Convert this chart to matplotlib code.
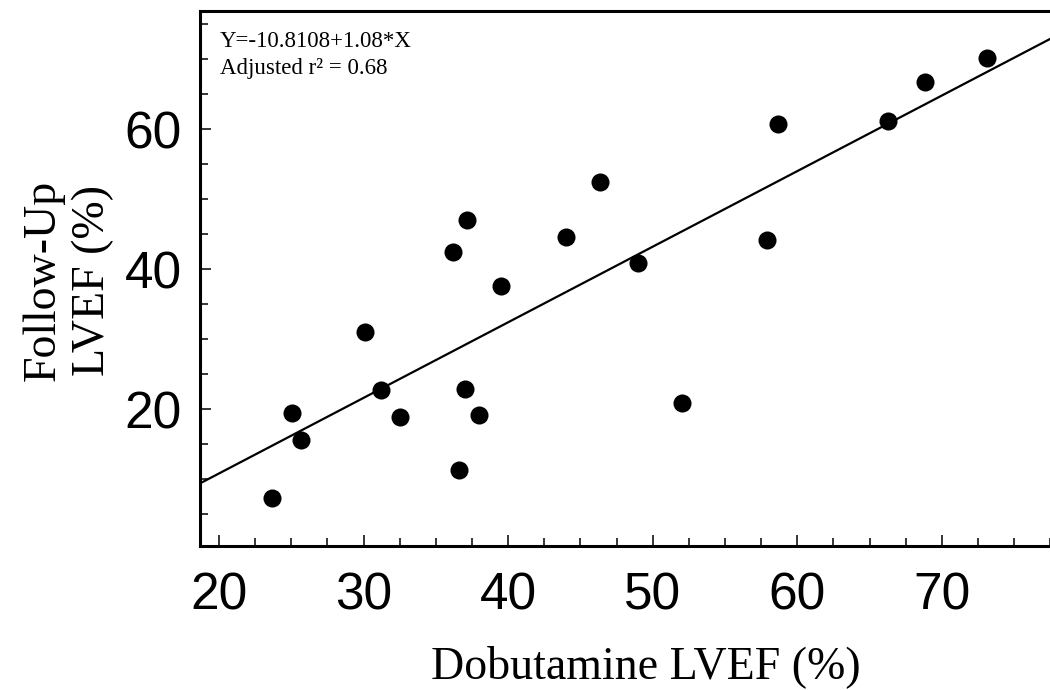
"""Follow-up LVEF against dobutamine LVEF with the fitted regression line."""

import matplotlib

matplotlib.use("Agg")

import matplotlib.pyplot as plt
import numpy as np
from matplotlib.ticker import MultipleLocator


OUTPUT_PATH = "out.png"

# Paired measurements (%), one point per patient
dobutamine_lvef = [
    23.7, 25.05, 25.7, 30.1, 31.2, 32.5, 36.2, 36.6, 37.15, 37.0, 38.0,
    39.5, 44.0, 46.35, 49.0, 52.0, 57.9, 58.65, 66.3, 68.8, 73.1,
]
followup_lvef = [
    7.3, 19.4, 15.6, 31.0, 22.7, 18.9, 42.4, 11.3, 47.0, 22.9, 19.1,
    37.6, 44.6, 52.4, 40.9, 20.9, 44.1, 60.7, 61.1, 66.7, 70.1,
]

# Least-squares fit reported in the figure
INTERCEPT = -10.8108
SLOPE = 1.08
ADJ_R2 = 0.68

X_LIMITS = (18.69, 78.0)
Y_LIMITS = (0.43, 76.86)

SANS = ["Liberation Sans Narrow", "Liberation Sans", "DejaVu Sans"]
SERIF = ["Liberation Serif", "DejaVu Serif"]


def main() -> None:
    fig = plt.figure(figsize=(10.5, 6.9), dpi=100, facecolor="white")
    ax = fig.add_axes([200 / 1050, 144 / 690, 857.6 / 1050, 535 / 690])

    ax.plot(dobutamine_lvef, followup_lvef, "o", color="black",
            markersize=13, markeredgewidth=0, zorder=3)

    fit_x = np.array(X_LIMITS)
    ax.plot(fit_x, INTERCEPT + SLOPE * fit_x, color="black", lw=1.6, zorder=2)

    ax.set_xlim(*X_LIMITS)
    ax.set_ylim(*Y_LIMITS)

    ax.xaxis.set_major_locator(MultipleLocator(10))
    ax.xaxis.set_minor_locator(MultipleLocator(2.5))
    ax.yaxis.set_major_locator(MultipleLocator(20))
    ax.yaxis.set_minor_locator(MultipleLocator(5))

    for spine in ax.spines.values():
        spine.set_linewidth(2.2)
    ax.spines["right"].set_visible(False)

    ax.tick_params(which="both", direction="in", width=1.1, top=False, right=False)
    ax.tick_params(which="major", length=8)
    ax.tick_params(which="minor", length=5.5)
    ax.tick_params(axis="x", which="major", pad=18)
    ax.tick_params(axis="y", which="major", pad=13)

    for label in ax.get_xticklabels() + ax.get_yticklabels():
        label.set_family(SANS)
        label.set_fontsize(37)

    fig.text(646 / 1050, 1 - 678 / 690, "Dobutamine LVEF (%)", family=SERIF,
             fontsize=33, ha="center", va="baseline")
    fig.text(68 / 1050, 1 - 280 / 690, "Follow-Up\nLVEF (%)", family=SERIF,
             fontsize=33, rotation=90, ha="center", va="center",
             multialignment="center", linespacing=1.2)

    fig.text(220 / 1050, 1 - 47 / 690, f"Y={INTERCEPT:g}+{SLOPE:g}*X",
             family=SERIF, fontsize=16.5, ha="left", va="baseline")
    fig.text(220 / 1050, 1 - 74 / 690, f"Adjusted r\u00b2 = {ADJ_R2:.2f}",
             family=SERIF, fontsize=16.5, ha="left", va="baseline")

    fig.savefig(OUTPUT_PATH, dpi=100, facecolor="white")
    plt.close(fig)


if __name__ == "__main__":
    main()
